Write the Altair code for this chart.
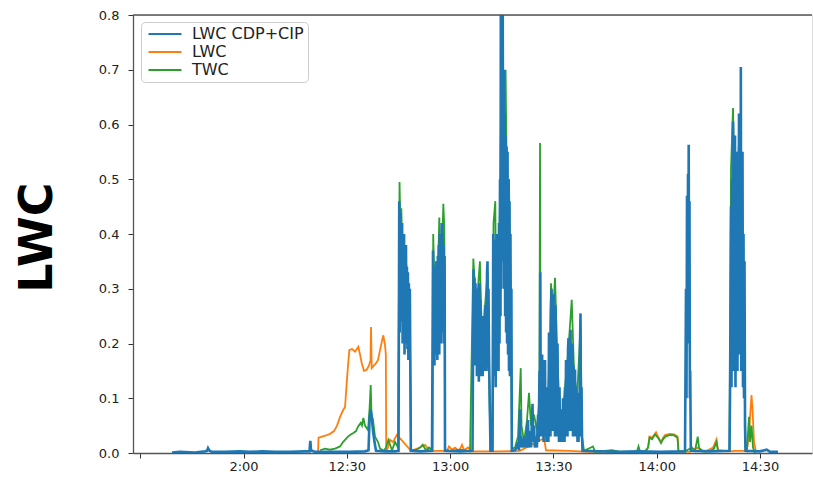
import altair as alt
import pandas as pd

# (minutes after 12:00, value)
blue_points = [
    (-20.77, 0.001), (-18.44, 0.002), (-14.09, 0.001), (-11.18, 0.003), (-10.60, 0.004), (-10.31, 0.009),
    (-9.87, 0.004), (-9.15, 0.002), (-5.37, 0.002), (-1.02, 0.003), (1.89, 0.002), (5.37, 0.003),
    (9.15, 0.002), (13.50, 0.002), (17.86, 0.003), (19.17, 0.003), (19.40, 0.022), (19.60, 0.005),
    (20.77, 0.002), (25.12, 0.002), (30.93, 0.002), (35.29, 0.003), (36.30, 0.005), (36.59, 0.06),
    (36.88, 0.08), (37.17, 0.07), (37.61, 0.04), (38.04, 0.02), (38.48, 0.004), (41.10, 0.003),
    (44.00, 0.003), (45.02, 0.004),
    # cluster 12:45
    (45.22, 0.46), (45.36, 0.22), (45.50, 0.44), (45.64, 0.30), (45.78, 0.41), (45.92, 0.24), (46.06, 0.42),
    (46.20, 0.20), (46.34, 0.39), (46.48, 0.26), (46.62, 0.40), (46.76, 0.18), (46.90, 0.36), (47.04, 0.22),
    (47.18, 0.38), (47.32, 0.20), (47.46, 0.34), (47.60, 0.19), (47.74, 0.33), (47.88, 0.17), (48.02, 0.31),
    (48.16, 0.18), (48.30, 0.30), (48.44, 0.17), (48.59, 0.004), (51.26, 0.003), (54.74, 0.004),
    # cluster 12:55
    (55.03, 0.37), (55.17, 0.20), (55.31, 0.34), (55.45, 0.16), (55.59, 0.30), (55.73, 0.18), (55.87, 0.33),
    (56.01, 0.20), (56.15, 0.35), (56.29, 0.17), (56.43, 0.36), (56.57, 0.22), (56.71, 0.38), (56.85, 0.18),
    (56.99, 0.40), (57.13, 0.24), (57.27, 0.37), (57.41, 0.20), (57.55, 0.42), (57.69, 0.25), (57.83, 0.40),
    (57.97, 0.22), (58.11, 0.38), (58.25, 0.20), (58.40, 0.36), (58.52, 0.004), (62.88, 0.003), (66.50, 0.004),
    # cluster 13:07
    (66.80, 0.335), (66.94, 0.20), (67.08, 0.32), (67.22, 0.16), (67.36, 0.31), (67.50, 0.18), (67.64, 0.30),
    (67.78, 0.14), (67.92, 0.29), (68.06, 0.17), (68.20, 0.30), (68.34, 0.13), (68.48, 0.31), (68.62, 0.16),
    (68.76, 0.28), (68.90, 0.14), (69.04, 0.25), (69.18, 0.15), (69.32, 0.23), (69.46, 0.14), (69.60, 0.25),
    (69.74, 0.16), (69.88, 0.22), (70.02, 0.15), (70.16, 0.27), (70.30, 0.16), (70.44, 0.24), (70.58, 0.15),
    (70.72, 0.33), (70.86, 0.35), (71.00, 0.20), (71.15, 0.30), (71.30, 0.18), (71.44, 0.12), (71.73, 0.004),
    (72.31, 0.004),
    # big peak 13:15
    (72.52, 0.40), (72.66, 0.20), (72.80, 0.36), (72.94, 0.14), (73.08, 0.39), (73.22, 0.12), (73.36, 0.30),
    (73.50, 0.15), (73.64, 0.40), (73.78, 0.18), (73.92, 0.35), (74.06, 0.15), (74.20, 0.42), (74.34, 0.20),
    (74.49, 0.50), (74.63, 0.25), (74.72, 0.80), (74.86, 0.30), (75.00, 0.78), (75.14, 0.35), (75.28, 0.80),
    (75.42, 0.40), (75.56, 0.70), (75.70, 0.30), (75.84, 0.62), (75.98, 0.25), (76.12, 0.58), (76.26, 0.22),
    (76.40, 0.56), (76.54, 0.20), (76.68, 0.55), (76.82, 0.18), (76.96, 0.50), (77.10, 0.15), (77.24, 0.46),
    (77.38, 0.14), (77.52, 0.40), (77.66, 0.16), (77.80, 0.30), (77.92, 0.004),
    # cluster 13:20 - 13:38
    (78.85, 0.005), (79.30, 0.01), (79.72, 0.02), (80.00, 0.005), (80.30, 0.08), (80.45, 0.01), (80.59, 0.03),
    (81.17, 0.01), (81.60, 0.03), (82.04, 0.01), (82.33, 0.04), (82.62, 0.06), (82.80, 0.01), (83.20, 0.04),
    (83.50, 0.01), (83.93, 0.09), (84.10, 0.02), (84.37, 0.05), (84.60, 0.01), (84.95, 0.03), (85.20, 0.01),
    (85.53, 0.07), (85.70, 0.02), (85.96, 0.15), (86.05, 0.03), (86.17, 0.33), (86.30, 0.04), (86.44, 0.16),
    (86.58, 0.03), (86.72, 0.18), (86.86, 0.05), (87.00, 0.15), (87.14, 0.02), (87.28, 0.17), (87.42, 0.04),
    (87.56, 0.17), (87.70, 0.03), (87.84, 0.10), (87.98, 0.02), (88.12, 0.12), (88.26, 0.03), (88.40, 0.08),
    (88.54, 0.02), (88.72, 0.22), (88.86, 0.04), (89.00, 0.16), (89.14, 0.03), (89.30, 0.26), (89.45, 0.30),
    (89.59, 0.05), (89.73, 0.24), (89.87, 0.04), (90.03, 0.29), (90.17, 0.06), (90.32, 0.25), (90.46, 0.03),
    (90.61, 0.27), (90.75, 0.05), (90.90, 0.20), (91.04, 0.03), (91.19, 0.20), (91.33, 0.04), (91.48, 0.12),
    (91.62, 0.02), (91.77, 0.12), (91.91, 0.03), (92.21, 0.06), (92.35, 0.02), (92.50, 0.08), (92.64, 0.02),
    (92.79, 0.10), (92.93, 0.03), (93.08, 0.09), (93.22, 0.02), (93.37, 0.12), (93.51, 0.03), (93.66, 0.17),
    (93.80, 0.04), (93.95, 0.15), (94.09, 0.03), (94.24, 0.19), (94.39, 0.21), (94.53, 0.05), (94.68, 0.18),
    (94.82, 0.04), (94.97, 0.225), (95.11, 0.06), (95.26, 0.20), (95.40, 0.04), (95.55, 0.20), (95.69, 0.03),
    (95.84, 0.16), (95.98, 0.04), (96.13, 0.15), (96.28, 0.15), (96.42, 0.03), (96.57, 0.12), (96.71, 0.06),
    (96.86, 0.11), (97.00, 0.02), (97.15, 0.11), (97.29, 0.02), (97.44, 0.08), (97.58, 0.03), (97.73, 0.20),
    (97.87, 0.255), (98.01, 0.04), (98.16, 0.12), (98.30, 0.03), (98.45, 0.004),
    (103.54, 0.003), (109.35, 0.002), (115.15, 0.003), (120.96, 0.002), (128.22, 0.003),
    # spike 14:08
    (128.51, 0.30), (128.65, 0.10), (128.80, 0.47), (128.94, 0.20), (129.09, 0.51), (129.20, 0.30),
    (129.29, 0.563), (129.40, 0.25), (129.52, 0.46), (129.63, 0.10), (129.73, 0.15), (129.91, 0.004),
    (135.48, 0.003),
    # cluster 14:22
    (141.14, 0.004), (141.28, 0.10), (141.43, 0.25), (141.58, 0.45), (141.72, 0.12), (141.87, 0.50),
    (142.01, 0.20), (142.16, 0.605), (142.30, 0.15), (142.45, 0.52), (142.59, 0.18), (142.74, 0.58),
    (142.88, 0.12), (143.03, 0.50), (143.17, 0.20), (143.32, 0.55), (143.46, 0.15), (143.61, 0.50),
    (143.75, 0.22), (143.90, 0.62), (144.04, 0.18), (144.19, 0.60), (144.33, 0.25), (144.43, 0.705),
    (144.55, 0.15), (144.63, 0.50), (144.78, 0.20), (144.92, 0.55), (145.06, 0.12), (145.21, 0.40),
    (145.35, 0.10), (145.50, 0.35), (145.65, 0.05), (145.79, 0.004),
    (150.00, 0.003), (151.95, 0.006), (152.91, 0.002), (155.23, 0.002),
]

orange_t = [21.64, 21.78, 22.80, 23.96, 25.12, 26.28, 27.15, 28.03, 28.90, 29.48, 29.97, 30.35, 30.73, 31.51,
            32.38, 33.34, 33.83, 34.33, 34.99, 35.78, 36.45, 36.88, 37.03, 37.23, 37.90, 38.48, 39.06, 39.64,
            40.22, 40.60, 41.10, 41.33, 41.44, 41.97, 42.55, 43.42, 44.49, 45.02, 48.64, 51.26,
            52.71, 54.16, 59.10, 59.68, 60.55, 61.42, 62.58, 63.46, 64.04, 65.20, 66.36, 70.13, 74.49, 80.30,
            87.27, 87.85, 94.68, 100.63, 109.35, 116.62, 117.49, 117.91, 118.64, 119.80, 120.38, 121.25, 121.83,
            122.50, 123.93, 125.09, 126.04, 126.33, 129.67, 131.71, 134.03, 136.35, 137.37, 137.80, 140.70,
            142.74, 145.64, 146.37, 146.95, 147.53, 147.82, 148.26, 148.84]
orange_v = [0.0, 0.028, 0.03, 0.032, 0.035, 0.04, 0.05, 0.066, 0.078, 0.084, 0.128, 0.16, 0.188, 0.19,
            0.185, 0.194, 0.18, 0.164, 0.15, 0.152, 0.16, 0.17, 0.23, 0.155, 0.16, 0.164, 0.17, 0.188,
            0.205, 0.215, 0.197, 0.18, 0.002, 0.01, 0.024, 0.02, 0.033, 0.03, 0.004, 0.01,
            0.015, 0.004, 0.004, 0.012, 0.006, 0.01, 0.004, 0.015, 0.005, 0.01, 0.003, 0.003, 0.003, 0.004,
            0.027, 0.005, 0.004, 0.002, 0.002, 0.002, 0.01, 0.03, 0.028, 0.038, 0.03, 0.02, 0.028,
            0.033, 0.035, 0.034, 0.03, 0.003, 0.002, 0.01, 0.002, 0.01, 0.025, 0.005, 0.003,
            0.004, 0.004, 0.012, 0.05, 0.106, 0.08, 0.02, 0.002]

green_t = [22.22, 23.67, 25.12, 26.57, 28.03, 28.90, 29.48, 30.35, 30.93, 31.80, 32.67, 33.25, 34.04, 34.41,
           34.79, 35.29, 36.16, 36.59, 36.94, 37.17, 37.61, 38.19, 39.06, 39.64, 40.80, 41.38, 42.05, 42.55,
           43.13, 44.00, 44.87,
           45.31, 45.60, 45.83, 46.17, 46.38, 46.61, 46.90, 47.19, 47.77, 48.35, 48.64, 50.29, 51.26, 52.04,
           53.00, 53.87, 54.89, 55.09, 55.47, 55.90, 56.33, 56.86, 57.36, 58.03, 58.32, 58.55, 59.97, 62.88, 65.78,
           66.74, 67.26, 67.84, 68.65, 69.29, 70.16, 70.86, 71.44, 71.73, 72.31, 72.60, 73.12, 73.47, 73.91,
           74.49, 75.07, 75.65, 76.11, 76.52, 77.10, 77.54, 77.98, 78.85, 79.72, 80.51, 80.74, 81.46, 82.33,
           82.91, 83.49, 84.37, 85.24, 85.94, 86.11, 86.28, 86.98, 87.56, 88.43, 89.01, 89.30, 89.88, 90.46,
           91.04, 91.62, 92.50, 93.37, 94.24, 95.32, 95.98, 96.86, 97.87, 98.31, 98.89, 101.50, 102.08, 107.02,
           109.35, 114.28, 114.71, 115.15, 116.62, 117.49, 117.91, 118.64, 119.51, 120.38, 121.25, 121.83,
           122.50, 123.93, 125.09, 126.04, 126.33, 128.22, 130.25, 131.13, 131.91, 132.29, 133.16, 135.48,
           136.64, 137.37, 137.80, 141.14, 141.58, 142.16, 142.74, 143.32, 144.19, 144.77, 145.35, 145.79,
           146.22, 146.80, 147.10, 147.53, 147.97, 148.55]
green_v = [0.005, 0.008, 0.006, 0.008, 0.012, 0.02, 0.024, 0.03, 0.033, 0.036, 0.04, 0.048, 0.055, 0.05,
           0.064, 0.05, 0.042, 0.08, 0.124, 0.07, 0.06, 0.03, 0.02, 0.008, 0.004, 0.01, 0.024, 0.015,
           0.005, 0.02, 0.01,
           0.495, 0.40, 0.447, 0.35, 0.40, 0.34, 0.30, 0.35, 0.30, 0.20, 0.005, 0.006, 0.01, 0.015,
           0.005, 0.01, 0.005, 0.40, 0.30, 0.35, 0.30, 0.43, 0.30, 0.455, 0.41, 0.005, 0.004, 0.006, 0.003,
           0.355, 0.30, 0.28, 0.35, 0.20, 0.27, 0.33, 0.10, 0.005, 0.005, 0.42, 0.46, 0.20, 0.30,
           0.45, 0.78, 0.55, 0.70, 0.45, 0.50, 0.28, 0.008, 0.01, 0.03, 0.155, 0.05, 0.02, 0.06,
           0.11, 0.05, 0.07, 0.04, 0.10, 0.566, 0.10, 0.165, 0.08, 0.10, 0.20, 0.31, 0.25, 0.32,
           0.20, 0.10, 0.05, 0.12, 0.18, 0.28, 0.15, 0.10, 0.23, 0.03, 0.004, 0.012, 0.002, 0.005,
           0.002, 0.003, 0.012, 0.003, 0.003, 0.01, 0.028, 0.025, 0.034, 0.028, 0.018, 0.025,
           0.03, 0.033, 0.032, 0.028, 0.003, 0.003, 0.01, 0.004, 0.03, 0.01, 0.003, 0.003,
           0.008, 0.02, 0.004, 0.004, 0.52, 0.63, 0.45, 0.50, 0.60, 0.40, 0.20, 0.01,
           0.005, 0.066, 0.02, 0.05, 0.01, 0.0]

series_names = ["LWC CDP+CIP", "LWC", "TWC"]
series_colors = ["#1f77b4", "#ff7f0e", "#2ca02c"]
y_ticks = [0.0, 0.1, 0.2, 0.3, 0.4, 0.5, 0.6, 0.7, 0.8]
x_tick_minutes = [-30, 0, 30, 60, 90, 120, 150]
domain_minutes = [-32.09, 165.10]

base = pd.Timestamp("2020-01-01 12:00:00")


def frame(ts, vs, name):
    return pd.DataFrame({
        "time": [base + pd.to_timedelta(t, unit="min") for t in ts],
        "value": vs,
        "series": name,
    })


df_blue = frame([p[0] for p in blue_points], [p[1] for p in blue_points], series_names[0])
df_orange = frame(orange_t, orange_v, series_names[1])
df_green = frame(green_t, green_v, series_names[2])


def dt(minutes):
    ts = base + pd.to_timedelta(minutes, unit="min")
    return alt.DateTime(year=ts.year, month=ts.month, date=ts.day, hours=ts.hour,
                        minutes=ts.minute, seconds=ts.second)


font = "DejaVu Sans"

x_enc = alt.X(
    "time:T",
    scale=alt.Scale(domain=[dt(domain_minutes[0]), dt(domain_minutes[1])], nice=False),
    axis=alt.Axis(
        values=[dt(m) for m in x_tick_minutes],
        labelExpr="timeFormat(datum.value, '%H:%M') == '11:30' ? '' : (timeFormat(datum.value, '%H:%M') == '12:00' ? '2:00' : timeFormat(datum.value, '%H:%M'))",
        title=None, grid=False, tickSize=5, labelPadding=2, labelFontSize=13,
        labelFont=font, labelColor="#222", tickColor="#333", domainColor="#555",
        domainWidth=1.3, labelFlush=False, labelOverlap=False,
    ),
)
y_enc = alt.Y(
    "value:Q",
    scale=alt.Scale(domain=[0, 0.8], nice=False, zero=True),
    axis=alt.Axis(
        values=y_ticks, format=".1f", title="LWC", grid=False, tickSize=5, labelPadding=9,
        labelFontSize=13, labelFont=font, labelColor="#222", tickColor="#333",
        domainColor="#555", domainWidth=1.3,
        titleFont=font, titleFontSize=46, titleFontWeight="bold", titleColor="#000",
        titleAngle=270, titleX=-82, titleY=222, titleAlign="center", titleBaseline="alphabetic",
        labelFlush=False,
    ),
)
color_enc = alt.Color(
    "series:N",
    scale=alt.Scale(domain=series_names, range=series_colors),
    legend=alt.Legend(
        title=None, orient="none", legendX=8, legendY=7, symbolType="M-3,0H3",
        symbolSize=121, symbolStrokeWidth=2, labelFontSize=16, labelFont=font, labelColor="#222",
        fillColor="white", strokeColor="#cccccc", cornerRadius=4, padding=4, rowPadding=2,
        labelOffset=19, symbolOffset=12,
    ),
)

orange = alt.Chart(df_orange).mark_line(strokeWidth=1.8, clip=True).encode(x=x_enc, y=y_enc, color=color_enc)
green = alt.Chart(df_green).mark_line(strokeWidth=1.8, clip=True).encode(x=x_enc, y=y_enc, color=color_enc)
blue = alt.Chart(df_blue).mark_line(strokeWidth=2.6, clip=True).encode(x=x_enc, y=y_enc, color=color_enc)
top = alt.Chart(pd.DataFrame({"v": [0.8]})).mark_rule(color="#555", strokeWidth=1.3).encode(
    y=alt.Y("v:Q", scale=alt.Scale(domain=[0, 0.8]))
)

chart = alt.layer(orange, green, blue, top).properties(
    width=679, height=438,
    autosize=alt.AutoSizeParams(type="none"),
    padding={"left": 133, "top": 15, "right": 1, "bottom": 24},
).configure_view(stroke=None).configure(background="white")

chart.save("out.html", embed_options={"renderer": "svg", "actions": False})
